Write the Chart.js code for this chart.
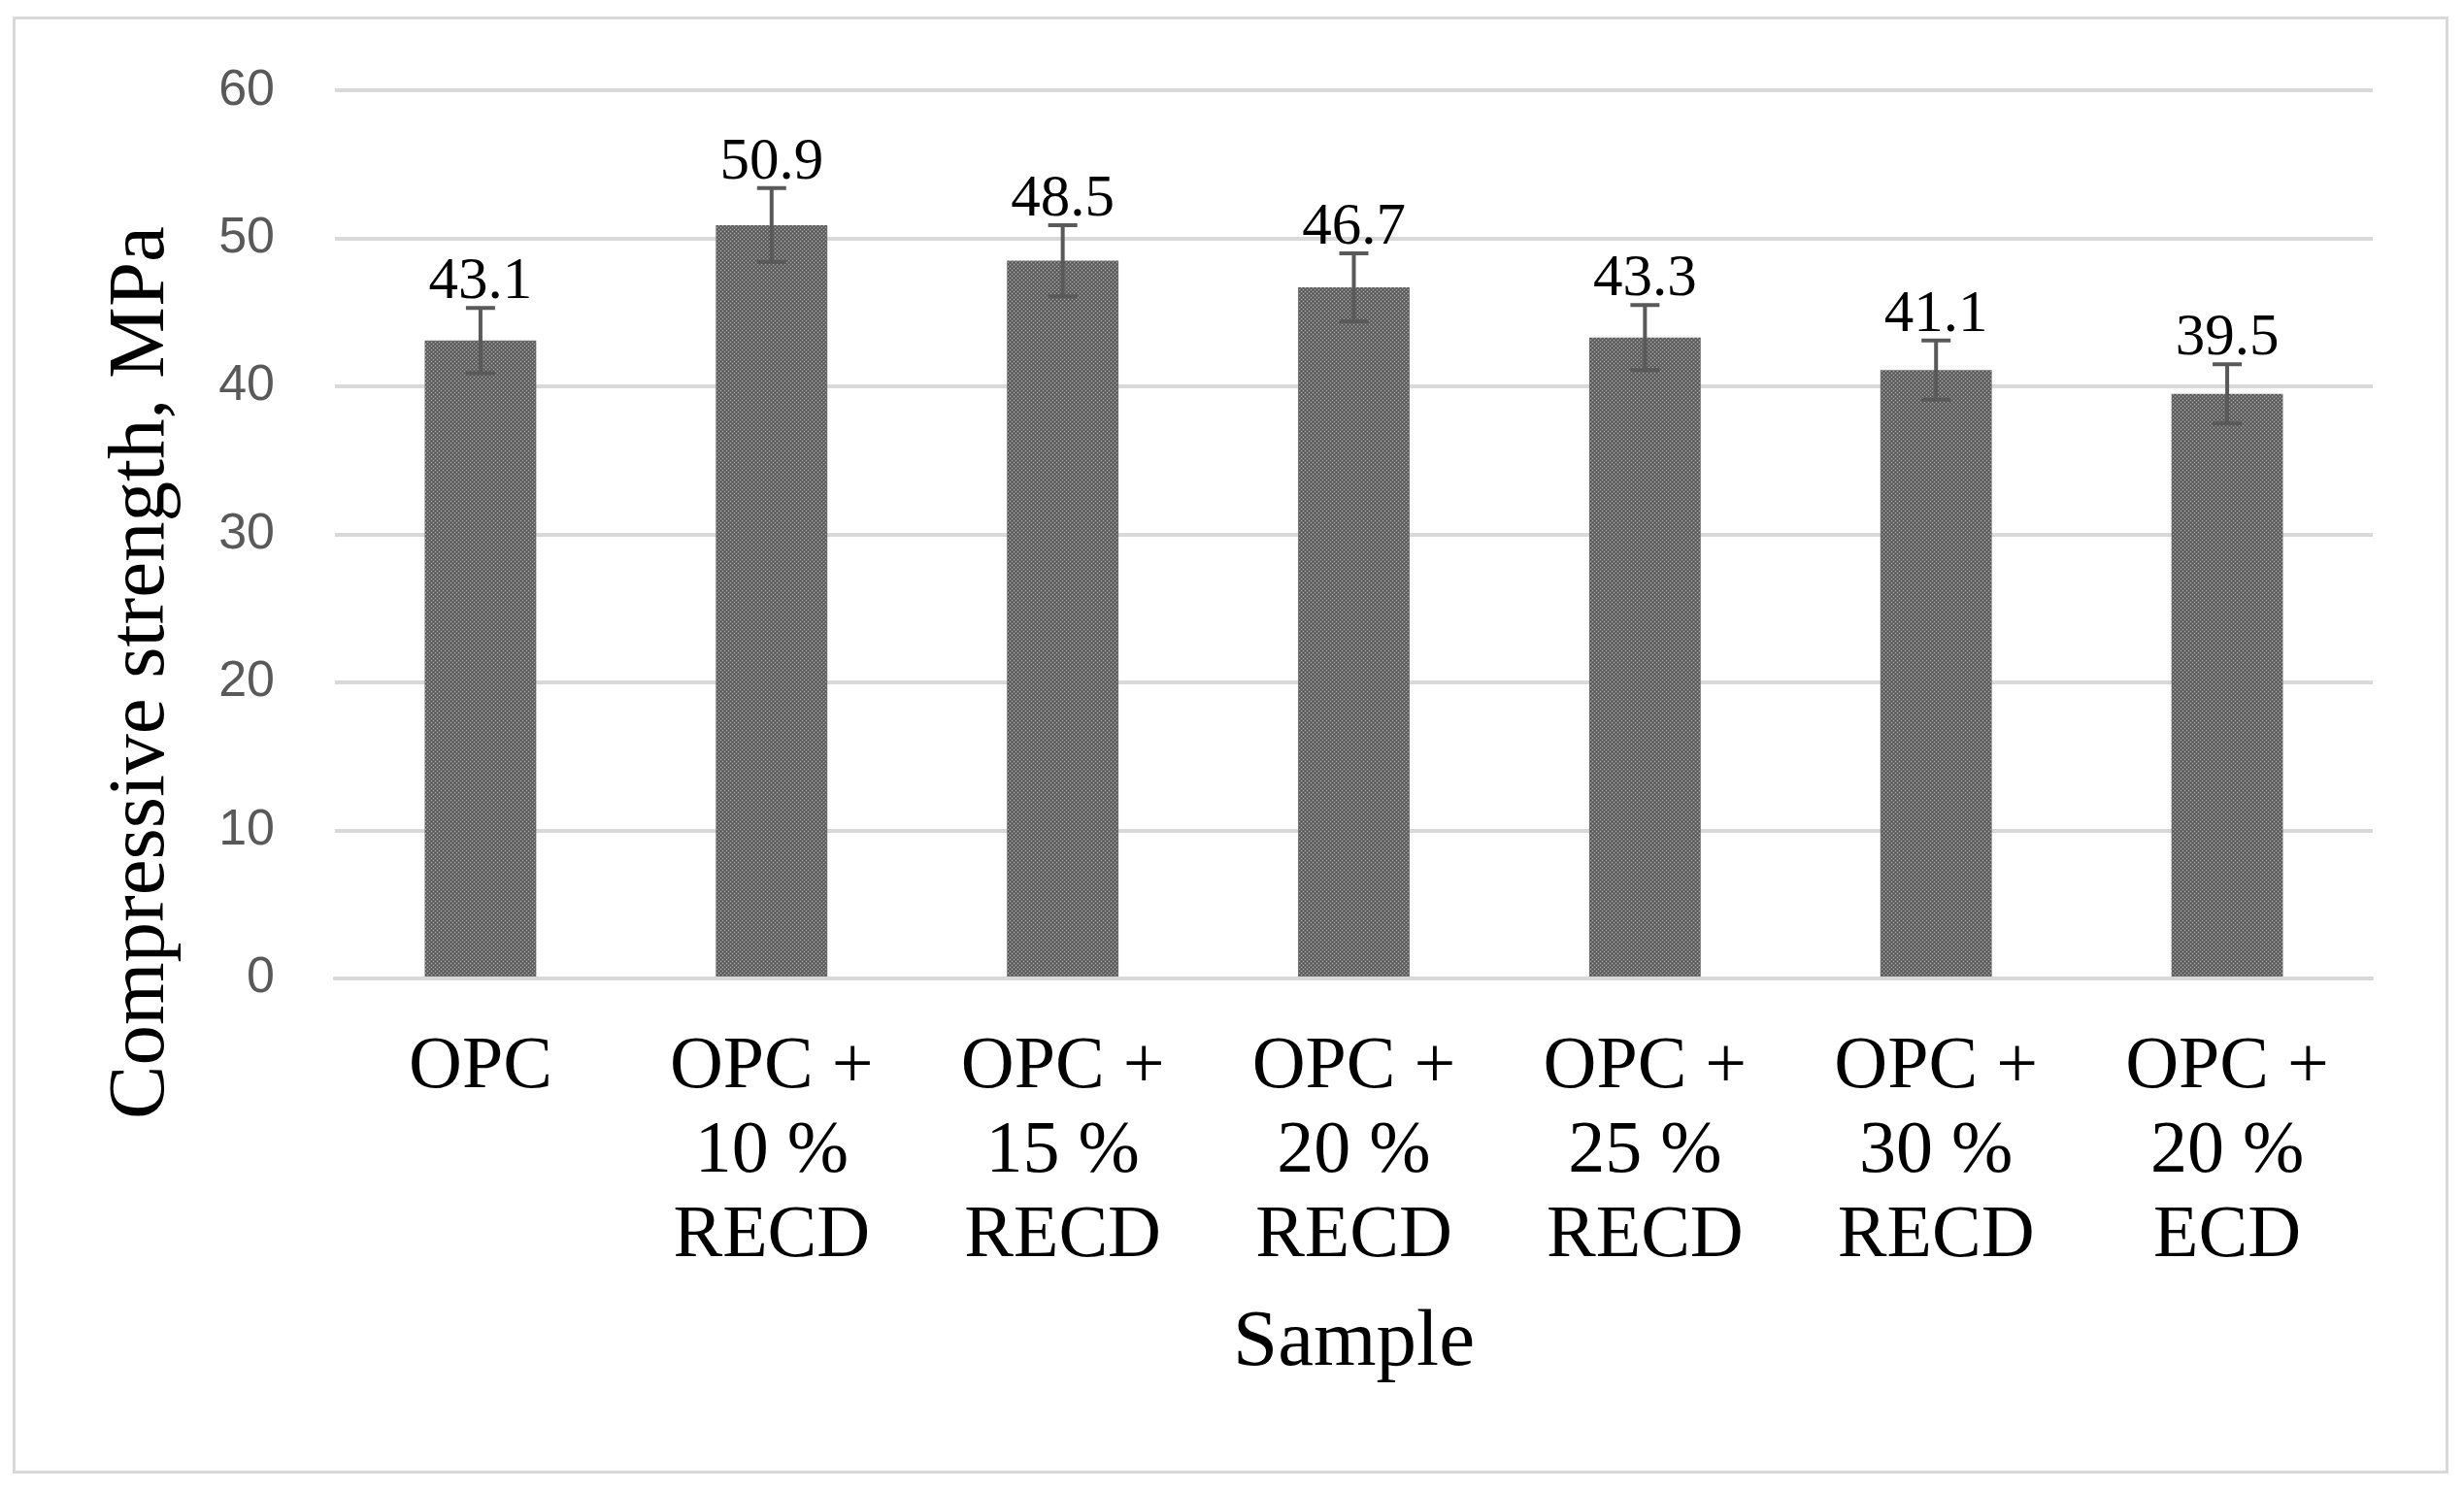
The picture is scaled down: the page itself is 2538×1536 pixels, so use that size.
<!DOCTYPE html>
<html>
<head>
<meta charset="utf-8">
<script src="https://cdn.jsdelivr.net/npm/chart.js@4/dist/chart.umd.min.js"></script>
<style>
  html, body { margin: 0; padding: 0; background: #fff; }
  #frame { position: absolute; left: 13px; top: 17px; width: 2503px; height: 1495px; border: 3px solid #d9d9d9; }
  #chart { position: absolute; left: 0; top: 0; }
</style>
</head>
<body>
<div id="frame"></div>
<canvas id="chart" width="2538" height="1536"></canvas>
<script>
const sampleLabels = [
    ['OPC'],
    ['OPC +', '10 %', 'RECD'],
    ['OPC +', '15 %', 'RECD'],
    ['OPC +', '20 %', 'RECD'],
    ['OPC +', '25 %', 'RECD'],
    ['OPC +', '30 %', 'RECD'],
    ['OPC +', '20 %', 'ECD']
];
const strengthValues = [43.1, 50.9, 48.5, 46.7, 43.3, 41.1, 39.5];
const errorValues = [2.2, 2.5, 2.4, 2.3, 2.2, 2.0, 2.0];
const yAxisTitle = 'Compressive strength, MPa';
const xAxisTitle = 'Sample';

const serif = '"Liberation Serif", "Times New Roman", serif';

// dotted grey fill like the office "dotted" pattern
function dotPattern() {
    var c = document.createElement('canvas');
    c.width = 4; c.height = 4;
    var g = c.getContext('2d');
    g.fillStyle = '#6a6a6a';
    g.fillRect(0, 0, 4, 4);
    g.fillStyle = '#a9a9a9';
    g.fillRect(0, 0, 1, 1);
    g.fillRect(2, 2, 1, 1);
    g.fillStyle = '#505050';
    g.fillRect(2, 0, 1, 1);
    g.fillRect(0, 2, 1, 1);
    return g.createPattern(c, 'repeat');
}

var errorBars = {
    id: 'errorBars',
    afterDatasetsDraw(chart) {
        var ctx = chart.ctx;
        var y = chart.scales.y;
        var meta = chart.getDatasetMeta(0);
        ctx.save();
        ctx.strokeStyle = '#595959';
        ctx.lineWidth = 4;
        meta.data.forEach((bar, i) => {
            var top = y.getPixelForValue(strengthValues[i] + errorValues[i]);
            var bottom = y.getPixelForValue(strengthValues[i] - errorValues[i]);
            ctx.beginPath();
            ctx.moveTo(bar.x, top);
            ctx.lineTo(bar.x, bottom);
            ctx.moveTo(bar.x - 15, top);
            ctx.lineTo(bar.x + 15, top);
            ctx.moveTo(bar.x - 15, bottom);
            ctx.lineTo(bar.x + 15, bottom);
            ctx.stroke();
        });
        ctx.fillStyle = '#000';
        ctx.font = '61px ' + serif;
        ctx.textAlign = 'center';
        ctx.textBaseline = 'alphabetic';
        meta.data.forEach((bar, i) => {
            var top = y.getPixelForValue(strengthValues[i] + errorValues[i]);
            ctx.fillText(strengthValues[i].toFixed(1), bar.x, top - 10);
        });
        ctx.restore();
    }
};

var yTitle = {
    id: 'yTitle',
    afterDraw(chart) {
        var ctx = chart.ctx;
        ctx.save();
        ctx.translate(146, 693);
        ctx.rotate(-Math.PI / 2);
        ctx.fillStyle = '#000';
        ctx.font = '83px ' + serif;
        ctx.textAlign = 'center';
        ctx.textBaseline = 'middle';
        ctx.fillText(yAxisTitle, 0, 0);
        ctx.restore();
    }
};

var chart = new Chart(document.getElementById('chart').getContext('2d'), {
    type: 'bar',
    data: {
        labels: sampleLabels,
        datasets: [{
            data: strengthValues,
            backgroundColor: dotPattern(),
            barPercentage: 0.383,
            categoryPercentage: 1.0
        }]
    },
    options: {
        responsive: false,
        devicePixelRatio: 1,
        animation: false,
        layout: { padding: { left: 0, right: 94, top: 92, bottom: 0 } },
        plugins: { legend: { display: false }, tooltip: { enabled: false } },
        scales: {
            x: {
                grid: { display: false, drawTicks: false },
                border: { display: true, color: '#d9d9d9', width: 4 },
                ticks: {
                    color: '#000',
                    font: { family: serif, size: 76, lineHeight: 1.15 },
                    padding: 48,
                    maxRotation: 0,
                    autoSkip: false
                },
                title: {
                    display: true,
                    text: xAxisTitle,
                    color: '#000',
                    font: { family: serif, size: 83, lineHeight: 1.2 },
                    padding: { top: 0, bottom: 102 }
                },
                afterFit: (s) => { s.height = 528; }
            },
            y: {
                min: 0,
                max: 60,
                ticks: {
                    stepSize: 10,
                    color: '#595959',
                    font: { family: '"Liberation Sans", Arial, sans-serif', size: 52 },
                    padding: 62
                },
                grid: { color: '#d9d9d9', lineWidth: 4, drawTicks: false },
                border: { display: false },
                afterFit: (s) => { s.width = 345; }
            }
        }
    },
    plugins: [errorBars, yTitle]
});
</script>
</body>
</html>
